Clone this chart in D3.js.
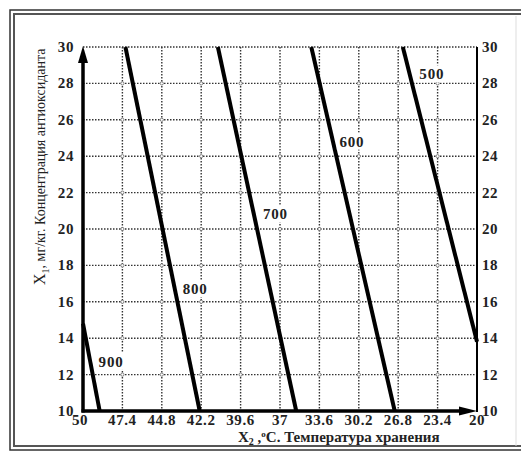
<!DOCTYPE html>
<meta charset="utf-8">
<style>
  body { margin: 0; background: #fff; }
  svg { display: block; font-family: "Liberation Serif", "Times New Roman", "DejaVu Serif", serif; }
  .tick-label { font-weight: bold; font-size: 15px; fill: #222; letter-spacing: 0.6px; }
  .grid line { stroke: #333; stroke-width: 1.4; stroke-dasharray: 1.5,1.5; }
  .contour { stroke: #000; stroke-width: 4; fill: none; }
  .clabel { font-weight: bold; font-size: 15px; fill: #222; letter-spacing: 0.8px; }
</style>
<body></body>
<script src="https://d3js.org/d3.v7.min.js"></script>
<script>

var xTicks = [50, 47.4, 44.8, 42.2, 39.6, 37, 33.6, 30.2, 26.8, 23.4, 20];
var yTicks = [10, 12, 14, 16, 18, 20, 22, 24, 26, 28, 30];

// contour levels, each line from its top/left end to bottom end [x2, x1]
var levels = ["900", "800", "700", "600", "500"];
var lineStart = [[50, 14.8], [47.2, 30], [41.1, 30], [34.3, 30], [26.4, 30]];
var lineEnd   = [[48.9, 10], [42.3, 10], [35.6, 10], [27.1, 10], [20, 13.8]];
var labelAt   = [[48.15, 12.7], [42.6, 16.7], [37.3, 20.8], [30.8, 24.8], [23.9, 28.5]];

var W = 521, H = 454;
var pLeft = 83, pRight = 477, pTop = 47, pBottom = 411;

var svg = d3.select("body").append("svg")
    .attr("width", W)
    .attr("height", H);

// frame
svg.append("rect").attr("x", 10).attr("y", 10).attr("width", 530).attr("height", 440)
    .attr("fill", "none").attr("stroke", "#333").attr("stroke-width", 1.5);
svg.append("rect").attr("x", 14).attr("y", 14).attr("width", 530).attr("height", 432)
    .attr("fill", "none").attr("stroke", "#555").attr("stroke-width", 2);
svg.append("line").attr("x1", 516).attr("x2", 516).attr("y1", 16).attr("y2", 446)
    .attr("stroke", "#ddd").attr("stroke-width", 1);

// x ticks are evenly spaced although the values are not
var xscale = d3.scaleLinear()
    .domain(xTicks)
    .range(xTicks.map(function(d, i) { return pLeft + i * (pRight - pLeft) / (xTicks.length - 1); }));

var yscale = d3.scaleLinear()
    .domain([10, 30])
    .range([pBottom, pTop]);

// grid
var grid = svg.append("g").attr("class", "grid");
grid.selectAll(".vx").data(xTicks.slice(1, -1)).enter().append("line")
    .attr("x1", function(d) { return xscale(d); })
    .attr("x2", function(d) { return xscale(d); })
    .attr("y1", pTop).attr("y2", pBottom);
grid.selectAll(".hy").data(yTicks.slice(1)).enter().append("line")
    .attr("x1", pLeft).attr("x2", pRight)
    .attr("y1", function(d) { return yscale(d); })
    .attr("y2", function(d) { return yscale(d); });

// small rings on the grid crossings
var crossings = [];
xTicks.slice(1, -1).forEach(function(a) {
    yTicks.slice(1, -1).forEach(function(b) { crossings.push([a, b]); });
});
svg.append("g").selectAll("circle").data(crossings).enter().append("circle")
    .attr("cx", function(d) { return xscale(d[0]); })
    .attr("cy", function(d) { return yscale(d[1]); })
    .attr("r", 1.6).attr("fill", "#fff").attr("stroke", "#666").attr("stroke-width", 0.8);

// axes
svg.append("line").attr("x1", pLeft).attr("x2", pLeft).attr("y1", pTop + 6).attr("y2", pBottom + 1.5)
    .attr("stroke", "#000").attr("stroke-width", 3.5);
svg.append("line").attr("x1", pLeft - 1.5).attr("x2", pRight - 10).attr("y1", pBottom).attr("y2", pBottom)
    .attr("stroke", "#000").attr("stroke-width", 3.5);
svg.append("line").attr("x1", pRight).attr("x2", pRight).attr("y1", pTop).attr("y2", pBottom + 1)
    .attr("stroke", "#000").attr("stroke-width", 2);
svg.append("path")
    .attr("d", "M" + pLeft + "," + (pTop - 1) + "L" + (pLeft - 5) + "," + (pTop + 16) + "L" + (pLeft + 5) + "," + (pTop + 16) + "Z")
    .attr("fill", "#000");
svg.append("path")
    .attr("d", "M" + pRight + "," + pBottom + "L" + (pRight - 18) + "," + (pBottom - 4.5) + "L" + (pRight - 18) + "," + (pBottom + 4.5) + "Z")
    .attr("fill", "#000");

// tick labels
svg.selectAll(".ylabL").data(yTicks).enter().append("text")
    .attr("class", "tick-label")
    .attr("x", pLeft - 9).attr("y", function(d) { return yscale(d) + 5; })
    .attr("text-anchor", "end")
    .text(function(d) { return d; });
svg.selectAll(".ylabR").data(yTicks).enter().append("text")
    .attr("class", "tick-label")
    .attr("x", pRight + 5).attr("y", function(d) { return yscale(d) + 5; })
    .text(function(d) { return d; });
svg.selectAll(".xlab").data(xTicks).enter().append("text")
    .attr("class", "tick-label")
    .attr("x", function(d, i) { return xscale(d) - (i == 0 ? 3 : 0); })
    .attr("y", pBottom + 14)
    .attr("text-anchor", "middle")
    .text(function(d) { return d; });

// contour lines
svg.selectAll(".contour").data(levels).enter().append("line")
    .attr("class", "contour")
    .attr("x1", function(d, i) { return xscale(lineStart[i][0]); })
    .attr("y1", function(d, i) { return yscale(lineStart[i][1]); })
    .attr("x2", function(d, i) { return xscale(lineEnd[i][0]); })
    .attr("y2", function(d, i) { return yscale(lineEnd[i][1]); });

var lab = svg.selectAll(".lab").data(levels).enter().append("g")
    .attr("transform", function(d, i) {
        return "translate(" + xscale(labelAt[i][0]) + "," + yscale(labelAt[i][1]) + ")";
    });
lab.append("rect").attr("x", -15).attr("y", -9).attr("width", 30).attr("height", 17).attr("fill", "#fff");
lab.append("text").attr("class", "clabel").attr("text-anchor", "middle").attr("y", 5)
    .text(function(d) { return d; });

// axis titles
var xt = svg.append("text")
    .attr("x", 238).attr("y", 442)
    .style("font-weight", "bold").style("font-size", "15px").style("fill", "#222");
xt.append("tspan").text("X");
xt.append("tspan").attr("dy", 3).style("font-size", "10px").text("2");
xt.append("tspan").attr("dy", -3).text(" ,");
xt.append("tspan").attr("dy", -5).style("font-size", "9px").text("o");
xt.append("tspan").attr("dy", 5).text("C. Температура хранения");

var yt = svg.append("text")
    .attr("transform", "translate(45,285) rotate(-90)")
    .style("font-size", "14px").style("fill", "#222");
yt.append("tspan").style("font-size", "16px").text("X");
yt.append("tspan").attr("dy", 4).style("font-size", "10px").text("1");
yt.append("tspan").attr("dy", -4).text(", мг/кг.  Концентрация антиоксиданта");

</script>
